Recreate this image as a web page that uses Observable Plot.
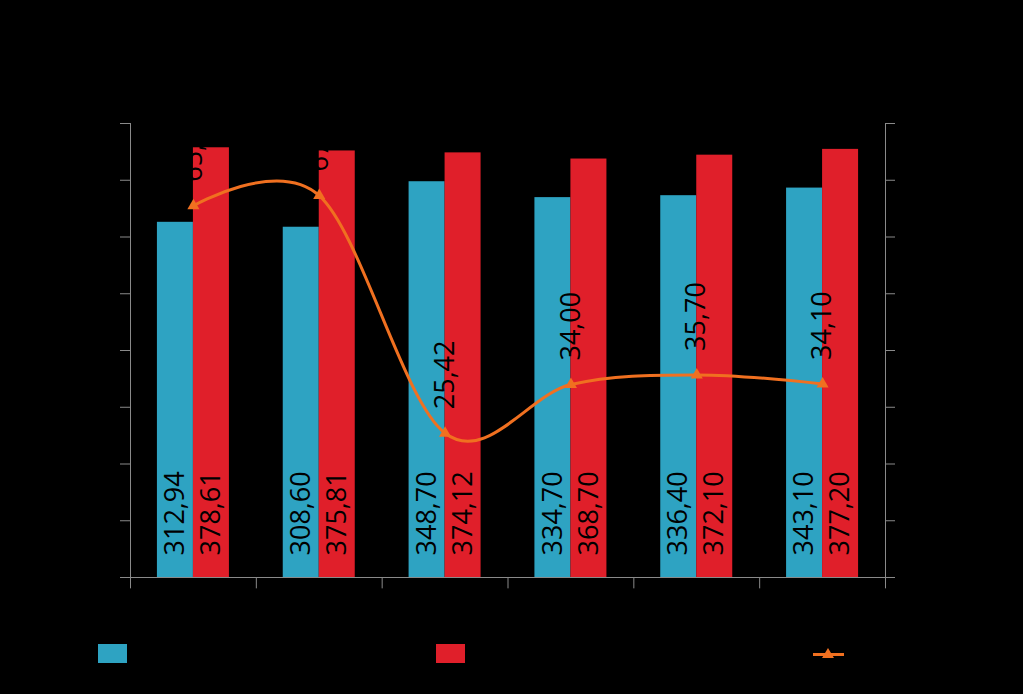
<!DOCTYPE html>
<html><head><meta charset="utf-8">
<script src="https://cdn.jsdelivr.net/npm/d3@7"></script>
<script src="https://cdn.jsdelivr.net/npm/@observablehq/plot@0.6"></script>
<style>
html,body{margin:0;padding:0;background:#000;}
body{width:1023px;height:694px;overflow:hidden;font-family:"Open Sans",sans-serif;}
#chart svg{display:block;}
#legend{position:relative;width:1023px;height:74px;}
.sw{position:absolute;}
</style>
</head><body>
<div id="chart"></div>
<div id="legend"></div>
<script>
// ---- data ----
const categories = ["1", "2", "3", "4", "5", "6"];
const barsBlue = [312.94, 308.60, 348.70, 334.70, 336.40, 343.10];
const barsRed = [378.61, 375.81, 374.12, 368.70, 372.10, 377.20];
const lineValues = [65.50, 67.30, 25.42, 34.00, 35.70, 34.10];
const leftTicks = [0, 50, 100, 150, 200, 250, 300, 350, 400];
const rightTicks = [0, 10, 20, 30, 40, 50, 60, 70, 80];

// ---- layout / style ----
const W = 1023, H = 620, mL = 130, mR = 138, mT = 123, mB = 43;
const n = categories.length;
const bw = (W - mL - mR) / n;          // px per category
const barW = 36;                       // px bar width
const wf = barW / bw;                  // bar width in category units
const tk = 10 / bw;                    // tick length in category units
const k = 400 / 80;                    // right-axis -> left-axis factor
const grey = "#8a8a8a";
const cBlue = "#2EA3C2", cRed = "#E01F2A", cOrange = "#F07020";
const fmt = v => d3.format(".2f")(v).replace(".", ",");

const rows = categories.map((c, i) => ({c, i, a: barsBlue[i], b: barsRed[i], l: lineValues[i]}));
const bounds = d3.range(n + 1).map(i => i - 0.5);
const xL = -0.5, xR = n - 0.5;

const plot = Plot.plot({
  width: W, height: H,
  marginLeft: mL, marginRight: mR, marginTop: mT, marginBottom: mB,
  style: {background: "#000", fontFamily: "Open Sans", fontSize: "12px", color: "#000", overflow: "visible"},
  x: {domain: [xL, xR], axis: null},
  y: {domain: [0, 400], axis: null},
  marks: [
    Plot.rectY(rows, {x1: d => d.i - wf, x2: d => d.i, y: "a", fill: cBlue}),
    Plot.rectY(rows, {x1: d => d.i, x2: d => d.i + wf, y: "b", fill: cRed}),
    // axes
    Plot.ruleY([0], {x1: xL - tk, x2: xR + tk, stroke: grey}),
    Plot.ruleX([xL], {y1: -3, y2: 400, stroke: grey}),
    Plot.ruleX([xR], {y1: -9, y2: 400, stroke: grey}),
    Plot.ruleX(bounds, {y1: 0, y2: -10, stroke: grey}),
    Plot.ruleY(leftTicks, {x1: xL - tk, x2: xL, stroke: grey}),
    Plot.text(leftTicks, {x: xL, y: d => d, dx: -14, textAnchor: "end", fill: "#000", fontSize: 14}),
    Plot.ruleY(rightTicks.map(v => v * k), {x1: xR, x2: xR + tk, stroke: grey}),
    Plot.text(rightTicks, {x: xR, y: d => d * k, dx: 14, textAnchor: "start", fill: "#000", fontSize: 14}),
    // line
    Plot.line(rows, {x: "i", y: d => d.l * k, stroke: cOrange, strokeWidth: 3, curve: "cardinal"}),
    Plot.dot(rows, {x: "i", y: d => d.l * k, symbol: "triangle", r: 4.5, fill: cOrange, stroke: "none"}),
    // labels
    Plot.text(rows, {x: "i", y: () => 0, text: d => fmt(d.a), rotate: -90, textAnchor: "start", dx: -barW / 2, dy: -22, fontSize: 27, fill: "#000"}),
    Plot.text(rows, {x: "i", y: () => 0, text: d => fmt(d.b), rotate: -90, textAnchor: "start", dx: barW / 2, dy: -22, fontSize: 27, fill: "#000"}),
    Plot.text(rows, {x: "i", y: d => d.l * k, text: d => fmt(d.l), rotate: -90, textAnchor: "start", dy: -24, fontSize: 27, fill: "#000"})
  ]
});
document.getElementById("chart").appendChild(plot);

// ---- legend (below the svg) ----
const legend = document.getElementById("legend");
function addBox(left, top, w, h, color) {
  const d = document.createElement("div");
  d.className = "sw";
  Object.assign(d.style, {left: left + "px", top: top + "px", width: w + "px", height: h + "px", background: color});
  legend.appendChild(d);
}
addBox(98, 24, 29, 19, cBlue);
addBox(436, 24, 29, 19, cRed);
addBox(813, 33, 31, 3, cOrange);
const tri = document.createElementNS("http://www.w3.org/2000/svg", "svg");
tri.setAttribute("width", 12); tri.setAttribute("height", 10);
Object.assign(tri.style, {position: "absolute", left: "822px", top: "28px"});
tri.innerHTML = `<path d="M6,0 L12,10 L0,10 Z" fill="${cOrange}"/>`;
legend.appendChild(tri);
</script>
</body></html>
